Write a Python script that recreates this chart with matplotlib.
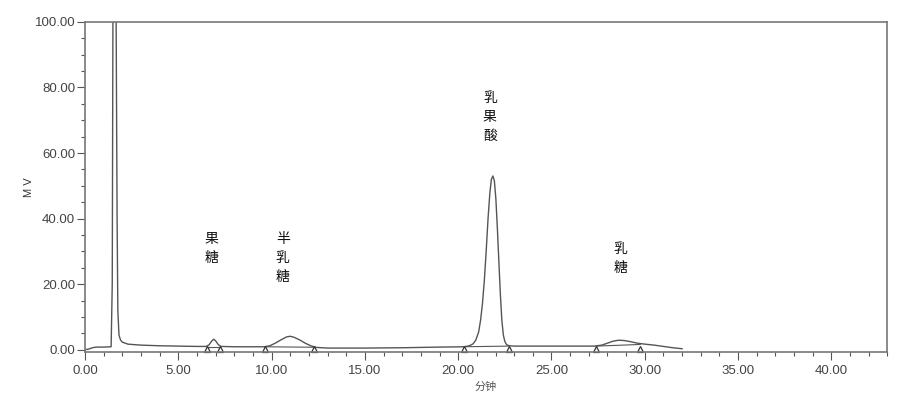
import numpy as np
import matplotlib.pyplot as plt
from matplotlib.ticker import MultipleLocator, FormatStrFormatter

plt.rcParams['font.family'] = ['Liberation Sans', 'Noto Sans CJK SC', 'DejaVu Sans']

# chromatogram trace (min, mV)
t = [0.0, 0.2, 0.4, 0.6, 1.0, 1.4, 1.46, 1.5, 1.55, 1.6, 1.66, 1.72, 1.76, 1.82, 1.9, 2.0,
     2.3, 3.0, 4.0, 5.0, 6.0, 6.5, 6.65, 6.8, 6.9, 7.0, 7.15, 7.3, 8.0, 9.0,
     9.6, 9.9, 10.2, 10.5, 10.8, 11.0, 11.2, 11.5, 11.8, 12.1, 12.4, 13.0, 15.0, 17.0, 19.0,
     20.3, 20.6, 20.8, 20.95, 21.1, 21.2, 21.3, 21.4, 21.5, 21.6, 21.7, 21.78, 21.86,
     21.94, 22.02, 22.1, 22.18, 22.26, 22.34, 22.42, 22.5, 22.6, 22.75, 23.0, 25.0,
     27.3, 27.7, 28.0, 28.3, 28.6, 28.9, 29.2, 29.6, 30.0, 30.5, 31.0, 31.5, 32.0]
mv = [0.0, 0.2, 0.6, 0.8, 0.8, 0.9, 20, 110, 135, 135, 110, 40, 12, 4.5, 3.0, 2.3,
      1.7, 1.4, 1.2, 1.1, 1.0, 1.0, 1.5, 2.7, 3.2, 2.7, 1.5, 1.0, 0.9, 0.9,
      0.9, 1.2, 2.0, 3.0, 3.9, 4.1, 3.8, 3.0, 2.0, 1.2, 0.7, 0.5, 0.5, 0.6, 0.8,
      0.9, 1.2, 1.8, 3.0, 5.5, 9, 14, 21, 30, 40, 48, 52, 53,
      51.5, 46, 37, 27, 17, 9, 4.5, 2.5, 1.5, 1.2, 1.1, 1.1,
      1.1, 1.4, 2.0, 2.6, 2.9, 2.8, 2.5, 2.0, 1.7, 1.4, 1.0, 0.6, 0.3]

# integration marks (start/end of each peak)
marks_t = [6.52, 7.24, 9.62, 12.28, 20.3, 22.7, 27.4, 29.76]
base_y = [0.95, 0.95, 0.9, 0.75, 0.9, 1.1, 1.1, 1.6]

names = ['果\n糖', '半\n乳\n糖', '乳\n果\n酸', '乳\n糖']
name_t = [6.8, 10.6, 21.7, 28.7]
name_y = [36, 36, 79, 33]

fig = plt.figure(figsize=(9.18, 4.04), dpi=100)
ax = fig.add_axes([0.0926, 0.1287, 0.874, 0.817])

ax.plot(t, mv, color='#555555', lw=1.0)
for i in range(0, len(marks_t), 2):
    ax.plot(marks_t[i:i+2], base_y[i:i+2], color='#555555', lw=0.8)
ax.plot(marks_t, [0.1]*len(marks_t), ls='none', marker='^', ms=5,
        mfc='white', mec='#333333', mew=0.9, clip_on=False)

for n, x, y in zip(names, name_t, name_y):
    ax.text(x, y, n, ha='center', va='top', fontsize=10, linespacing=1.45, color='#111111',
            family=['Noto Sans CJK SC', 'DejaVu Sans'])

ax.set_xlim(0, 43)
ax.set_ylim(-0.7, 100)
ax.xaxis.set_major_locator(MultipleLocator(5))
ax.xaxis.set_minor_locator(MultipleLocator(1))
ax.yaxis.set_major_locator(MultipleLocator(20))
ax.yaxis.set_minor_locator(MultipleLocator(5))
ax.xaxis.set_major_formatter(FormatStrFormatter('%.2f'))
ax.yaxis.set_major_formatter(FormatStrFormatter('%.2f'))
ax.tick_params(which='major', length=6, width=0.8, color='#555555', labelsize=9.5, labelcolor='#444444')
ax.tick_params(axis='y', which='major', pad=1)
ax.tick_params(which='minor', length=3, width=0.8, color='#555555')
for s in ax.spines.values():
    s.set_color('#777777')
    s.set_linewidth(1.2)

ax.set_ylabel('M V', fontsize=8, color='#333333')
ax.yaxis.set_label_coords(-0.063, 0.5)
ax.set_xlabel('分钟', fontsize=8, color='#555555', labelpad=3,
              family=['Noto Sans CJK SC', 'DejaVu Sans'])

fig.savefig('out.png', dpi=100)
